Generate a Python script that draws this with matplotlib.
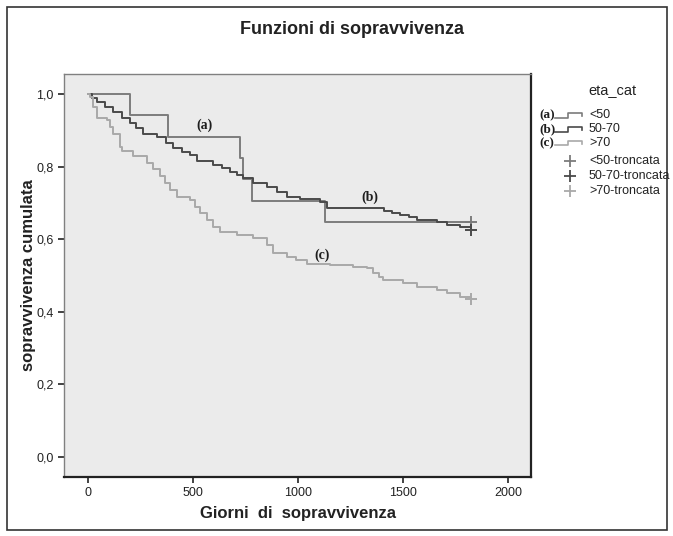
import matplotlib
matplotlib.use("Agg")
import matplotlib.pyplot as plt
from matplotlib.lines import Line2D
from matplotlib.patches import Rectangle
from matplotlib.ticker import FuncFormatter

plt.rcParams['font.family'] = ['Liberation Sans', 'DejaVu Sans']

# Kaplan-Meier step curves (day, cumulative survival)
days_a = [0, 200, 381, 724, 740, 779, 1129, 1822]
surv_a = [1.0, 0.941, 0.882, 0.824, 0.765, 0.706, 0.647, 0.647]

days_b = [0, 20, 41, 80, 121, 160, 200, 230, 263, 327, 370, 406, 450, 486, 518,
          597, 640, 676, 710, 740, 787, 851, 900, 946, 1010, 1105, 1137, 1410,
          1450, 1486, 1530, 1565, 1660, 1708, 1771, 1822]
surv_b = [1.0, 0.990, 0.979, 0.965, 0.951, 0.935, 0.919, 0.905, 0.891, 0.882,
          0.866, 0.850, 0.841, 0.832, 0.814, 0.804, 0.795, 0.786, 0.777, 0.768,
          0.754, 0.744, 0.731, 0.717, 0.710, 0.703, 0.686, 0.679, 0.673, 0.667,
          0.660, 0.653, 0.648, 0.639, 0.633, 0.625]

days_c = [0, 10, 25, 41, 89, 105, 121, 152, 160, 216, 279, 310, 343, 365, 390,
          422, 486, 510, 533, 565, 597, 629, 708, 787, 851, 883, 946, 990, 1041,
          1152, 1263, 1327, 1359, 1385, 1406, 1502, 1565, 1660, 1708, 1771, 1822]
surv_c = [1.0, 0.993, 0.965, 0.933, 0.928, 0.910, 0.891, 0.855, 0.842, 0.828,
          0.809, 0.792, 0.774, 0.755, 0.736, 0.717, 0.708, 0.690, 0.671, 0.652,
          0.634, 0.621, 0.612, 0.602, 0.584, 0.561, 0.552, 0.543, 0.533, 0.529,
          0.524, 0.520, 0.506, 0.497, 0.488, 0.479, 0.469, 0.460, 0.451, 0.442,
          0.435]

groups = ['<50', '50-70', '>70']
tags = ['(a)', '(b)', '(c)']
colors = ['#7c7c7c', '#4a4a4a', '#a9a9a9']
tag_pos = [(557, 0.915), (1343, 0.716), (1113, 0.556)]

W, H = 673, 536
fig = plt.figure(figsize=(W / 100, H / 100), dpi=100)


def px(x, y):
    return x / W, 1 - y / H


ax = fig.add_axes([64 / W, 1 - 477 / H, (531 - 64) / W, (477 - 74) / H])
ax.set_facecolor('#ebebeb')

curves = [(days_a, surv_a), (days_b, surv_b), (days_c, surv_c)]
for (d, s), col, tag, (tx, ty) in zip(curves, colors, tags, tag_pos):
    ax.step(d, s, where='post', color=col, lw=1.4)
    ax.plot(d[-1], s[-1], marker='+', color=col, ms=9, mew=1.4, ls='none')
    ax.text(tx, ty, tag, family='Liberation Serif', weight='bold', fontsize=10,
            ha='center', va='center', color='#1e1e1e')

ax.set_xlim(-114, 2110)
ax.set_ylim(-0.055, 1.055)
ax.set_xticks([0, 500, 1000, 1500, 2000])
ax.set_yticks([0, 0.2, 0.4, 0.6, 0.8, 1.0])
ax.yaxis.set_major_formatter(FuncFormatter(lambda v, p: f"{v:.1f}".replace('.', ',')))
ax.tick_params(direction='out', length=4, width=1.2, labelsize=9, colors='#222222')

for side in ['top', 'left']:
    ax.spines[side].set_color('#808080')
    ax.spines[side].set_linewidth(1.0)
for side in ['bottom', 'right']:
    ax.spines[side].set_color('#222222')
    ax.spines[side].set_linewidth(1.6)

ax.set_xlabel('Giorni  di  sopravvivenza', fontsize=12, weight='bold', color='#222222')
ax.set_ylabel('sopravvivenza cumulata', fontsize=12, weight='bold', color='#222222')
ax.xaxis.set_label_coords(0.5, -0.072)
ax.yaxis.set_label_coords(-0.06, 0.5)

fig.text(*px(352, 30), 'Funzioni di sopravvivenza', fontsize=13, weight='bold',
         ha='center', va='center', color='#222222')

# outer frame
fig.patches.append(Rectangle(px(7, 530), (667 - 7) / W, (530 - 7) / H,
                             transform=fig.transFigure, fill=False,
                             ec='#333333', lw=1.2))

# legend, drawn by hand like the SPSS one
fig.text(*px(588, 91), 'eta_cat', fontsize=10.5, ha='left', va='center', color='#222222')
for i, (g, col, tag) in enumerate(zip(groups, colors, tags)):
    y = 115 + i * 14
    fig.text(*px(539, y), tag, family='Liberation Serif', weight='bold',
             fontsize=9.5, ha='left', va='center', color='#1e1e1e')
    xs = [555, 568, 568, 582, 582]
    ys = [y + 2.5, y + 2.5, y - 2.5, y - 2.5, y + 0.5]
    fig.add_artist(Line2D([x / W for x in xs], [1 - v / H for v in ys],
                          transform=fig.transFigure, color=col, lw=1.2))
    fig.text(*px(589, y), g, fontsize=9, ha='left', va='center', color='#222222')
for i, (g, col) in enumerate(zip(groups, colors)):
    y = 161 + i * 15
    fig.add_artist(Line2D([570 / W], [1 - y / H], transform=fig.transFigure,
                          marker='+', color=col, ms=9, mew=1.3, ls='none'))
    fig.text(*px(589, y), g + '-troncata', fontsize=9, ha='left', va='center',
             color='#222222')

fig.savefig('out.png', dpi=100)
